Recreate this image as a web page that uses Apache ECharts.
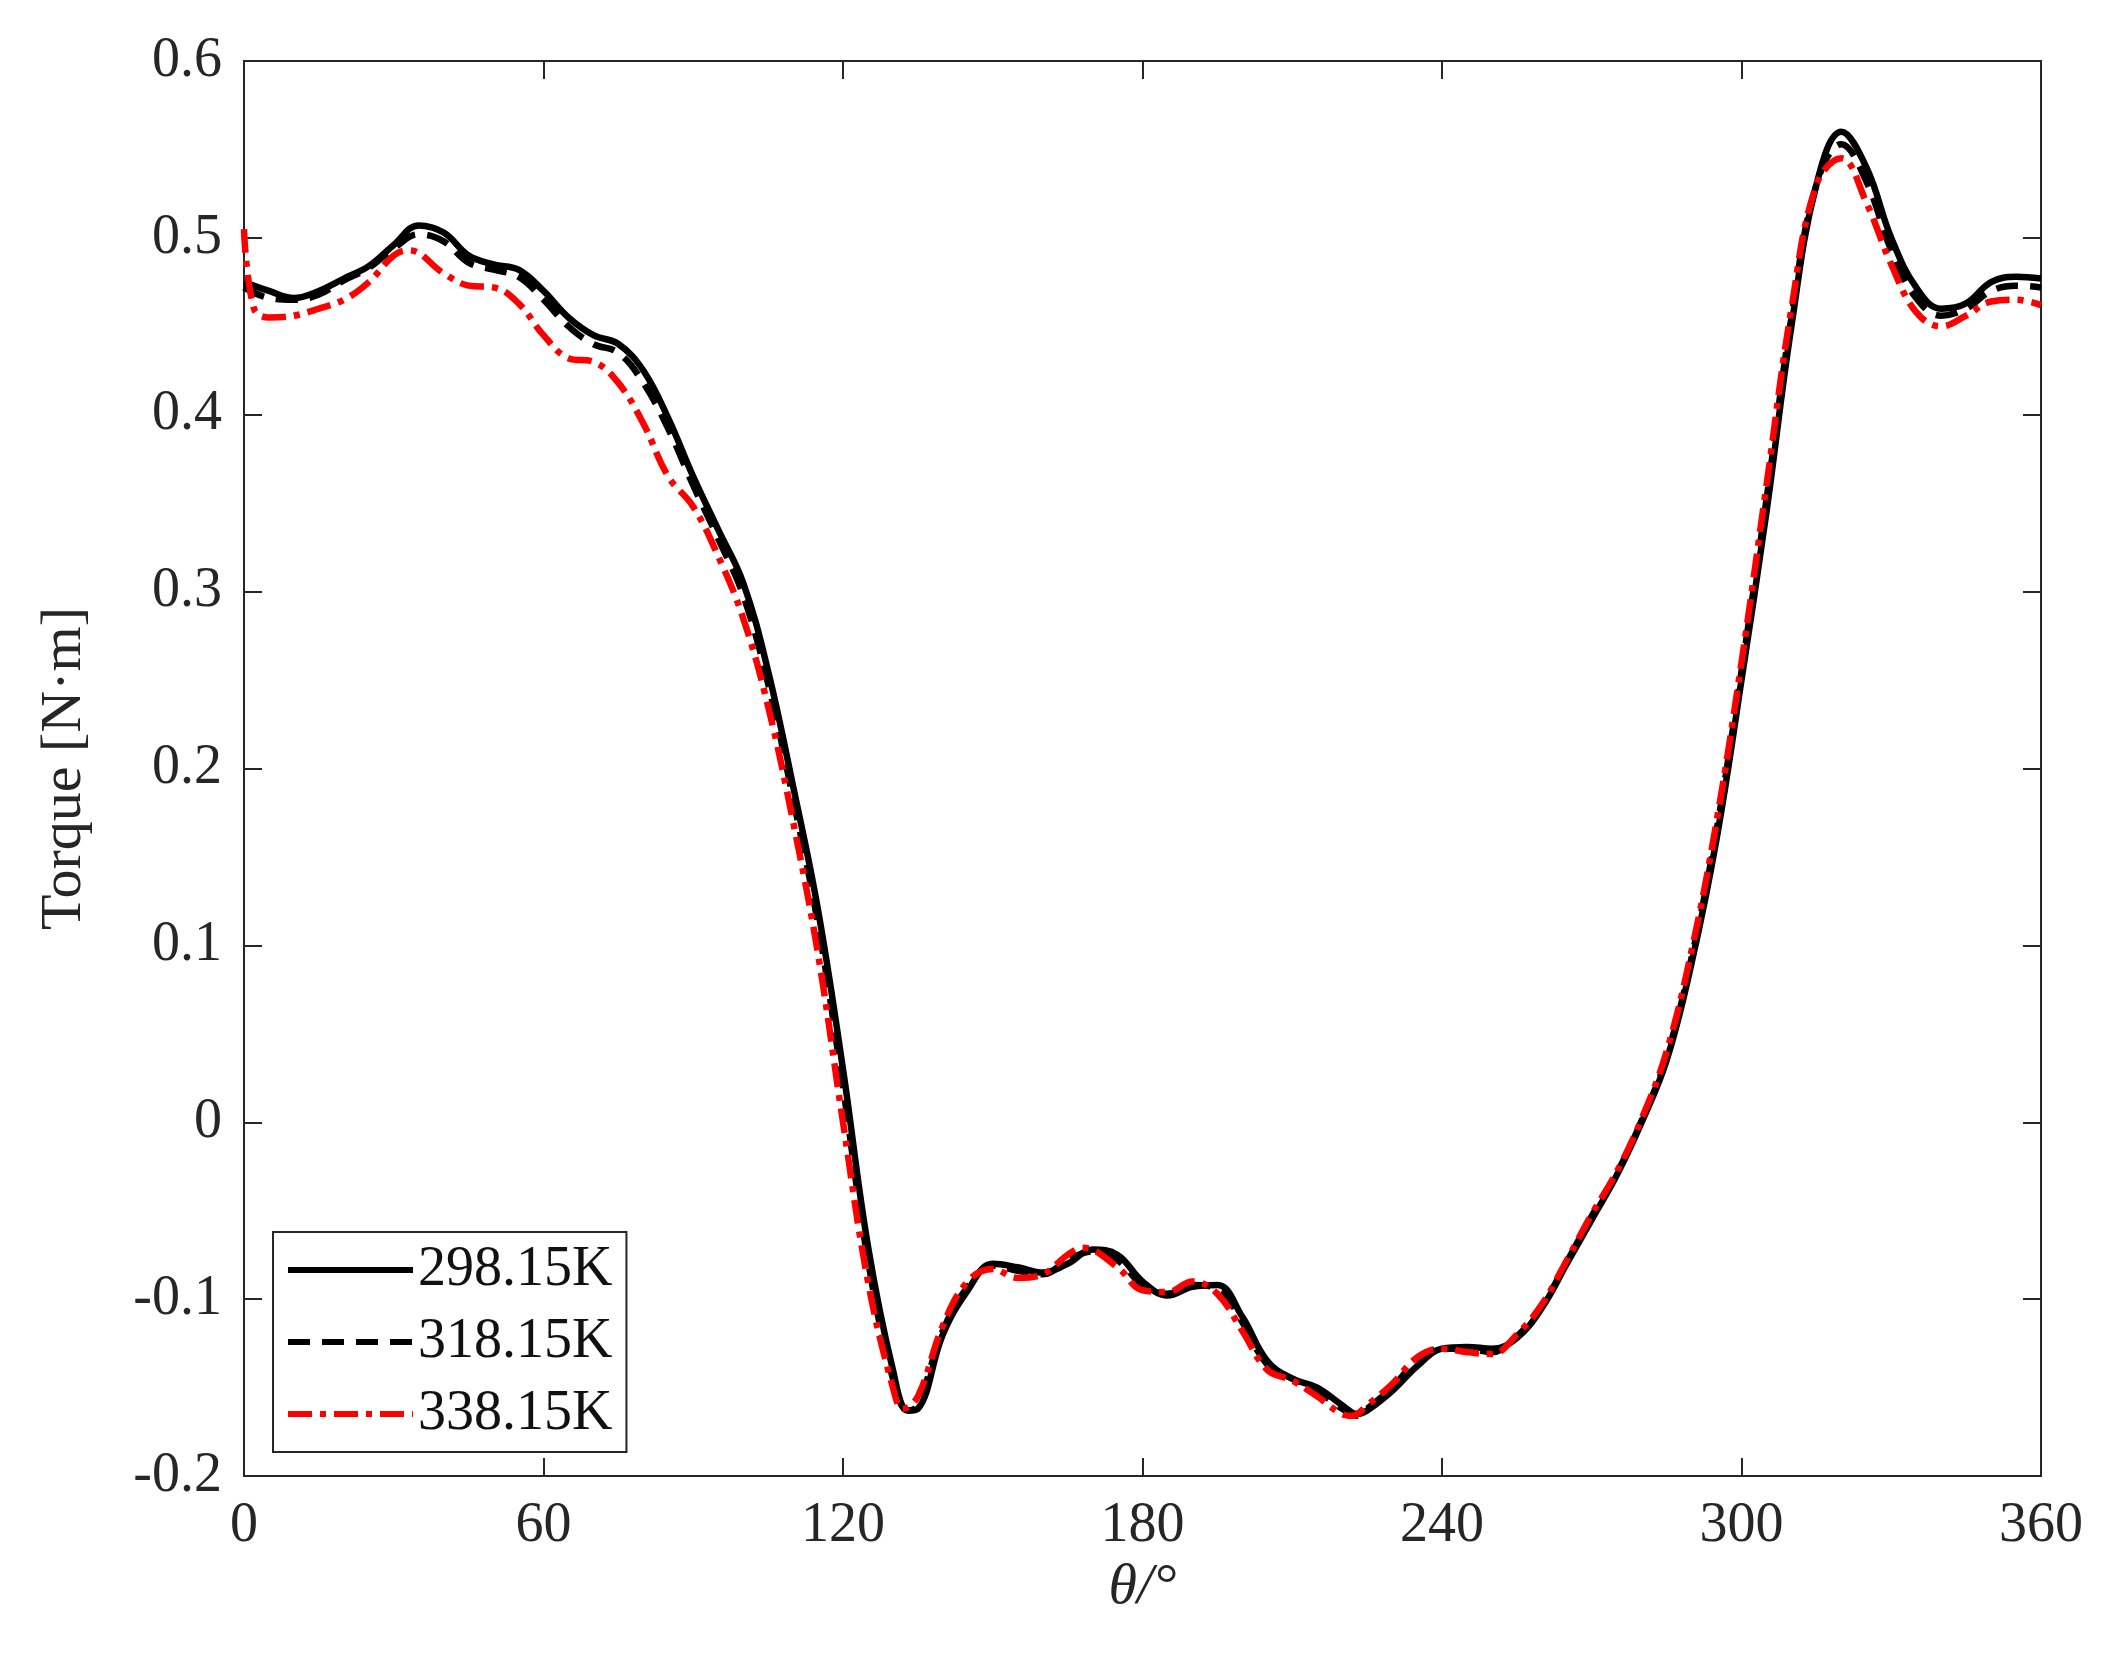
<!DOCTYPE html>
<html>
<head>
<meta charset="utf-8">
<script src="https://cdn.jsdelivr.net/npm/echarts@6/dist/echarts.min.js"></script>
<style>html,body{margin:0;padding:0;background:#fff;}</style>
</head>
<body>
<div id="chart" style="width:2110px;height:1675px;"></div>
<script>
var seriesNames = ['298.15K', '318.15K', '338.15K'];
var xTicks = [0, 60, 120, 180, 240, 300, 360];

var t298 = [[0,0.475],[5,0.470],[10,0.466],[15,0.470],[20,0.477],[25,0.484],[30,0.496],[35,0.507],[40,0.503],[45,0.490],[50,0.485],[55,0.482],[60,0.470],[65,0.455],[70,0.445],[75,0.440],[80,0.425],[85,0.398],[90,0.365],[95,0.335],[100,0.305],[105,0.255],[110,0.190],[115,0.120],[120,0.030],[125,-0.070],[130,-0.140],[133,-0.163],[135,-0.162],[140,-0.120],[145,-0.095],[150,-0.080],[155,-0.082],[160,-0.085],[165,-0.080],[170,-0.072],[175,-0.075],[180,-0.090],[185,-0.098],[190,-0.093],[195,-0.092],[200,-0.110],[205,-0.135],[210,-0.145],[215,-0.150],[220,-0.160],[223,-0.165],[225,-0.163],[230,-0.152],[235,-0.138],[240,-0.128],[245,-0.127],[250,-0.128],[255,-0.122],[260,-0.105],[265,-0.080],[270,-0.055],[275,-0.030],[280,0.000],[285,0.035],[290,0.090],[295,0.160],[300,0.250],[305,0.345],[310,0.450],[315,0.530],[320,0.560],[325,0.540],[330,0.500],[335,0.472],[340,0.460],[345,0.463],[350,0.475],[355,0.478],[360,0.477]];

var t318 = [[0,0.472],[5,0.466],[10,0.465],[15,0.468],[20,0.476],[25,0.483],[30,0.494],[35,0.502],[40,0.498],[45,0.486],[50,0.482],[55,0.478],[60,0.465],[65,0.450],[70,0.440],[75,0.435],[80,0.418],[85,0.392],[90,0.360],[95,0.330],[100,0.298],[105,0.248],[110,0.183],[115,0.112],[120,0.020],[125,-0.078],[130,-0.145],[133,-0.163],[135,-0.160],[140,-0.118],[145,-0.093],[150,-0.081],[155,-0.084],[160,-0.086],[165,-0.078],[170,-0.073],[175,-0.078],[180,-0.092],[185,-0.097],[190,-0.092],[195,-0.094],[200,-0.113],[205,-0.137],[210,-0.145],[215,-0.152],[220,-0.162],[223,-0.166],[225,-0.162],[230,-0.150],[235,-0.135],[240,-0.128],[245,-0.128],[250,-0.130],[255,-0.121],[260,-0.104],[265,-0.079],[270,-0.053],[275,-0.029],[280,0.001],[285,0.037],[290,0.093],[295,0.165],[300,0.255],[305,0.352],[310,0.455],[315,0.530],[320,0.553],[325,0.532],[330,0.493],[335,0.466],[340,0.456],[345,0.460],[350,0.470],[355,0.473],[360,0.472]];

var t338 = [[0,0.505],[2,0.460],[5,0.455],[10,0.456],[15,0.460],[20,0.465],[25,0.475],[30,0.490],[33,0.493],[40,0.480],[45,0.473],[50,0.472],[55,0.463],[60,0.445],[65,0.432],[70,0.430],[75,0.418],[80,0.395],[85,0.365],[90,0.348],[95,0.320],[100,0.285],[105,0.235],[110,0.170],[115,0.095],[120,0.000],[125,-0.090],[130,-0.150],[132,-0.162],[135,-0.155],[140,-0.115],[145,-0.090],[150,-0.083],[155,-0.088],[160,-0.086],[165,-0.075],[168,-0.071],[175,-0.082],[180,-0.095],[185,-0.096],[190,-0.090],[195,-0.097],[200,-0.118],[205,-0.140],[210,-0.146],[215,-0.155],[220,-0.165],[222,-0.166],[225,-0.160],[230,-0.148],[235,-0.133],[240,-0.128],[245,-0.130],[250,-0.131],[255,-0.120],[260,-0.103],[265,-0.078],[270,-0.052],[275,-0.028],[280,0.002],[285,0.040],[290,0.097],[295,0.170],[300,0.260],[305,0.360],[310,0.460],[315,0.530],[320,0.545],[325,0.520],[330,0.485],[335,0.458],[340,0.450],[345,0.456],[350,0.464],[355,0.465],[360,0.462]];

var font = 'Liberation Serif';
var myChart = echarts.init(document.getElementById('chart'));

function mkSeries(name, data, color, dash){
    return {
        name: name,
        type: 'line',
        data: data,
        smooth: 0.4,
        symbol: 'none',
        z: name == '338.15K' ? 5 : 3,
        lineStyle: { width: 6.5, color: color, type: dash },
        itemStyle: { color: color }
    };
}

var axisCommon = {
    axisLine: { show: true, onZero: false, lineStyle: { color: '#262626', width: 2 } },
    axisTick: { show: true, inside: true, length: 18, lineStyle: { color: '#262626', width: 2 } },
    splitLine: { show: false },
    axisLabel: { color: '#262626', fontFamily: font, fontSize: 56, margin: 22 }
};

var option = {
    backgroundColor: '#fff',
    animation: false,
    grid: { left: 244, right: 69, top: 61, bottom: 199, show: true, borderColor: '#262626', borderWidth: 2 },
    legend: {
        left: 273, top: 1232,
        orient: 'vertical',
        backgroundColor: '#fff',
        borderColor: '#262626', borderWidth: 2,
        padding: [10, 14, 10, 12],
        itemGap: 16,
        itemWidth: 125, itemHeight: 20,
        itemStyle: { opacity: 0 },
        lineStyle: { width: 6 },
        textStyle: { fontFamily: font, fontSize: 56, color: '#111' },
        data: seriesNames
    },
    xAxis: [
        Object.assign({}, axisCommon, {
            type: 'value', min: 0, max: 360, interval: 60,
            name: 'θ/°', nameLocation: 'middle', nameGap: 82,
            nameTextStyle: { fontFamily: font, fontSize: 58, fontStyle: 'italic', color: '#262626' }
        }),
        Object.assign({}, axisCommon, {
            type: 'value', position: 'top', min: 0, max: 360, interval: 60, axisLabel: { show: false }
        })
    ],
    yAxis: [
        Object.assign({}, axisCommon, {
            type: 'value', min: -0.2, max: 0.6, interval: 0.1,
            name: 'Torque [N·m]', nameLocation: 'middle', nameGap: 150,
            nameTextStyle: { fontFamily: font, fontSize: 58, color: '#262626' },
            axisLabel: Object.assign({}, axisCommon.axisLabel, {
                formatter: function(v){ var s = Math.round(v*10)/10; return s == 0 ? '0' : String(s); }
            })
        }),
        Object.assign({}, axisCommon, {
            type: 'value', position: 'right', min: -0.2, max: 0.6, interval: 0.1, axisLabel: { show: false }
        })
    ],
    series: [
        mkSeries(seriesNames[0], t298, '#000', 'solid'),
        mkSeries(seriesNames[1], t318, '#000', [22, 12]),
        mkSeries(seriesNames[2], t338, '#ff0000', [24, 8, 6, 8])
    ]
};
myChart.setOption(option);
</script>
</body>
</html>
